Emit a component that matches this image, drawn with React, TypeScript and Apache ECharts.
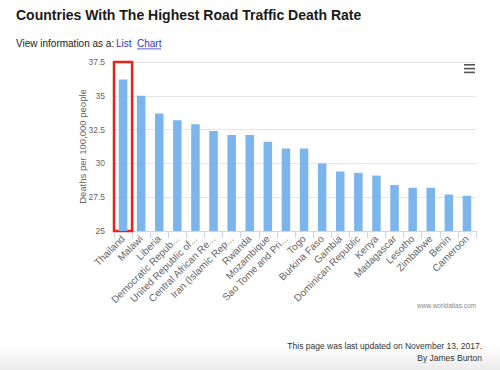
import React, { useEffect, useRef } from "react";
import * as echarts from "echarts";

const countries = [
  "Thailand", "Malawi", "Liberia", "Democratic Republic of the Congo",
  "United Republic of Tanzania", "Central African Republic",
  "Iran (Islamic Republic of)", "Rwanda", "Mozambique",
  "Sao Tome and Principe", "Togo", "Burkina Faso", "Gambia",
  "Dominican Republic", "Kenya", "Madagascar", "Lesotho", "Zimbabwe",
  "Benin", "Cameroon",
];
const tickLabels = [
  "Thailand", "Malawi", "Liberia", "Democratic Repub...",
  "United Republic of...", "Central African Re...", "Iran (Islamic Rep...",
  "Rwanda", "Mozambique", "Sao Tome and Pri...", "Togo", "Burkina Faso",
  "Gambia", "Dominican Republic", "Kenya", "Madagascar", "Lesotho",
  "Zimbabwe", "Benin", "Cameroon",
];
const deathRates = [
  36.2, 35.0, 33.7, 33.2, 32.9, 32.4, 32.1, 32.1, 31.6, 31.1, 31.1, 30.0,
  29.4, 29.3, 29.1, 28.4, 28.2, 28.2, 27.7, 27.6,
];
const highlighted = "Thailand";

const FONT = "'Liberation Sans', Arial, Helvetica, sans-serif";

export default function App() {
  const ref = useRef<HTMLDivElement>(null);
  useEffect(() => {
    if (!ref.current) return;
    const chart = echarts.init(ref.current, undefined, { renderer: "svg" });
    chart.setOption({
      animation: false,
      backgroundColor: "#ffffff",
      textStyle: { fontFamily: FONT },
      grid: { left: 114, right: 24, top: 62, bottom: 139 },
      xAxis: {
        type: "category",
        data: countries,
        axisLine: { lineStyle: { color: "#ccd6eb" } },
        axisTick: { show: true, alignWithLabel: false, length: 7, lineStyle: { color: "#ccd6eb" } },
        axisLabel: {
          rotate: 45,
          interval: 0,
          margin: 6,
          color: "#666666",
          fontSize: 10,
          fontFamily: FONT,
          formatter: (_v: string, i: number) => tickLabels[i],
        },
      },
      yAxis: {
        type: "value",
        min: 25,
        max: 37.5,
        interval: 2.5,
        name: "Deaths per 100,000 people",
        nameLocation: "middle",
        nameGap: 27,
        nameMoveOverlap: false,
        nameTextStyle: { color: "#666666", fontSize: 9.5, fontFamily: FONT },
        axisLine: { show: false },
        axisTick: { show: false },
        axisLabel: { color: "#666666", fontSize: 8.5, margin: 9, fontFamily: FONT },
        splitLine: { lineStyle: { color: "#e6e6e6" } },
      },
      series: [
        {
          type: "bar",
          data: deathRates,
          barWidth: "47%",
          itemStyle: { color: "#7cb5ec" },
          markArea: {
            silent: true,
            itemStyle: { color: "rgba(0,0,0,0)", borderColor: "#e8221b", borderWidth: 2.5 },
            data: [[{ xAxis: highlighted, yAxis: 37.5 }, { xAxis: highlighted, yAxis: 24.7 }]],
          },
        },
      ],
      graphic: [
        {
          type: "rect",
          left: 0,
          top: 345,
          shape: { width: 500, height: 25 },
          style: {
            fill: new echarts.graphic.LinearGradient(0, 0, 0, 1, [
              { offset: 0, color: "#ffffff" },
              { offset: 1, color: "#ebebeb" },
            ]),
          },
          z: -1,
        },
        {
          type: "text",
          left: 16,
          top: 8,
          style: {
            text: "Countries With The Highest Road Traffic Death Rate",
            font: `bold 14px ${FONT}`,
            fill: "#1a1a1a",
          },
        },
        {
          type: "text",
          left: 16,
          top: 38,
          style: { text: "View information as a:", font: `10px ${FONT}`, fill: "#222222" },
        },
        {
          type: "text",
          left: 116,
          top: 38,
          style: { text: "List", font: `10px ${FONT}`, fill: "#3333bb" },
        },
        {
          type: "text",
          left: 137,
          top: 38,
          style: { text: "Chart", font: `10px ${FONT}`, fill: "#3333bb" },
        },
        {
          type: "rect",
          left: 137,
          top: 48.5,
          shape: { width: 24, height: 0.8 },
          style: { fill: "#3333bb" },
        },
        {
          type: "group",
          left: 464,
          top: 64,
          children: [
            { type: "rect", shape: { x: 0, y: 0, width: 11, height: 1.6 }, style: { fill: "#555555" } },
            { type: "rect", shape: { x: 0, y: 3.8, width: 11, height: 1.6 }, style: { fill: "#555555" } },
            { type: "rect", shape: { x: 0, y: 7.6, width: 11, height: 1.6 }, style: { fill: "#555555" } },
          ],
        },
        {
          type: "text",
          right: 24,
          top: 302,
          style: { text: "www.worldatlas.com", font: `6.5px ${FONT}`, fill: "#888888" },
        },
        {
          type: "text",
          right: 18,
          top: 341,
          style: { text: "This page was last updated on November 13, 2017.", font: `8.5px ${FONT}`, fill: "#333333" },
        },
        {
          type: "text",
          right: 18,
          top: 353,
          style: { text: "By James Burton", font: `8.5px ${FONT}`, fill: "#333333" },
        },
      ],
    });
    return () => chart.dispose();
  }, []);
  return (
    <div
      ref={ref}
      style={{ position: "fixed", left: 0, top: 0, width: 500, height: 370 }}
    />
  );
}
